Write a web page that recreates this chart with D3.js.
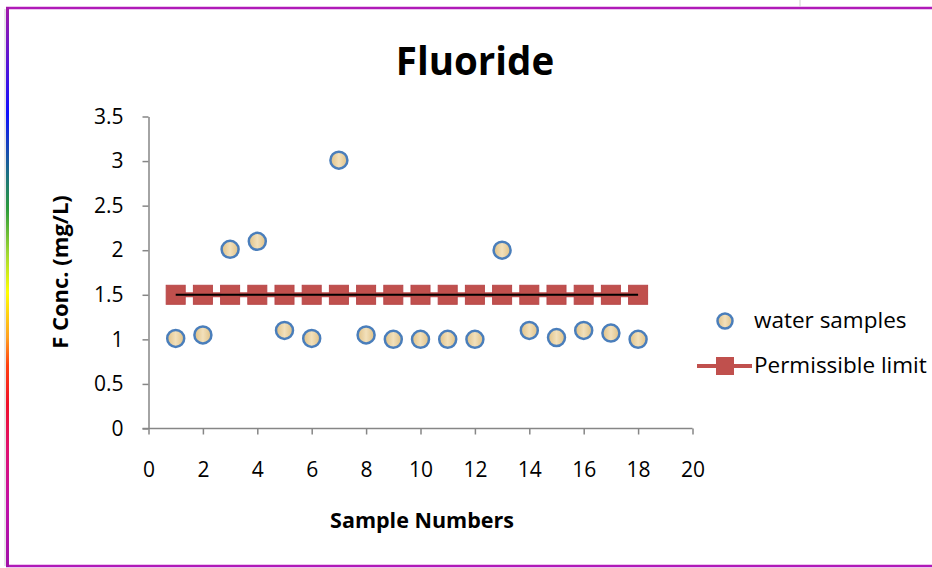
<!DOCTYPE html>
<html>
<head>
<meta charset="utf-8">
<script src="https://cdn.jsdelivr.net/npm/d3@7"></script>
<style>
  body { margin: 0; background: #fff; }
  text { font-family: "Open Sans", sans-serif; fill: #000; }
</style>
</head>
<body>
<script>
// sample numbers and fluoride concentrations (mg/L)
var samples = [1, 2, 3, 4, 5, 6, 7, 8, 9, 10, 11, 12, 13, 14, 15, 16, 17, 18];
var fluoride = [1.01, 1.05, 2.01, 2.1, 1.1, 1.01, 3.01, 1.05, 1.0, 1.0, 1.0, 1.0, 2.0, 1.1, 1.02, 1.1, 1.07, 1.0];
var limit = [1.5, 1.5, 1.5, 1.5, 1.5, 1.5, 1.5, 1.5, 1.5, 1.5, 1.5, 1.5, 1.5, 1.5, 1.5, 1.5, 1.5, 1.5];
var xTicks = [0, 2, 4, 6, 8, 10, 12, 14, 16, 18, 20];
var yTicks = [0, 0.5, 1, 1.5, 2, 2.5, 3, 3.5];
var seriesNames = ["water samples", "Permissible limit"];

var w = 932,
    h = 568;

var svg = d3.select("body").append("svg")
    .attr("width", w)
    .attr("height", h);

var defs = svg.append("defs");

var tan = defs.append("linearGradient")
    .attr("id", "tan")
    .attr("x1", "0%").attr("x2", "100%").attr("y1", "0%").attr("y2", "0%");
tan.append("stop").attr("offset", "0%").attr("stop-color", "#dfc084");
tan.append("stop").attr("offset", "50%").attr("stop-color", "#f2e0bb");
tan.append("stop").attr("offset", "100%").attr("stop-color", "#dfc084");

var edge = defs.append("linearGradient")
    .attr("id", "edge")
    .attr("x1", 0).attr("x2", 0).attr("y1", 0).attr("y2", 1);
[[0, "#a31aa8"], [0.19, "#1010ff"], [0.3, "#1a7080"], [0.36, "#2a9a3a"], [0.44, "#a0d830"],
 [0.51, "#ffff00"], [0.59, "#ffa020"], [0.64, "#ff4010"], [0.71, "#f0102a"], [0.79, "#e01070"],
 [0.89, "#c010a8"], [1, "#a010a8"]].forEach(function(s) {
  edge.append("stop").attr("offset", s[0]).attr("stop-color", s[1]);
});

// frame of the chart area
svg.append("rect")
    .attr("x", 4).attr("y", 9).attr("width", 2).attr("height", 557)
    .style("fill", "#e6e6e6");
svg.append("line")
    .attr("x1", 6).attr("x2", w).attr("y1", 8).attr("y2", 8)
    .style("stroke", "#b01ab8").style("stroke-width", 2.5);
svg.append("line")
    .attr("x1", 6).attr("x2", w).attr("y1", 566).attr("y2", 566)
    .style("stroke", "#b01ab8").style("stroke-width", 2.5);
svg.append("rect")
    .attr("x", 6).attr("y", 7).attr("width", 3).attr("height", 560)
    .style("fill", "url(#edge)");
svg.append("line")
    .attr("x1", 800).attr("x2", 800).attr("y1", 0).attr("y2", 7)
    .style("stroke", "#d0d0d0").style("stroke-width", 1);

var x = d3.scaleLinear().domain([0, 20]).range([148.5, 692.5]);
var y = d3.scaleLinear().domain([0, 3.5]).range([428.5, 116.5]);

var xAxis = svg.append("g")
    .attr("transform", "translate(0," + y(0) + ")")
    .call(d3.axisBottom(x).tickValues(xTicks).tickSize(6).tickPadding(28).tickSizeOuter(0));
var yAxis = svg.append("g")
    .attr("transform", "translate(" + x(0) + ",0)")
    .call(d3.axisLeft(y).tickValues(yTicks).tickSize(6).tickPadding(19).tickSizeOuter(0)
      .tickFormat(d3.format("")));

[xAxis, yAxis].forEach(function(g) {
  g.select(".domain").style("stroke", "#868686").style("stroke-width", 1.5);
  g.selectAll(".tick line").style("stroke", "#868686").style("stroke-width", 1.5);
  g.selectAll(".tick text").style("font-family", "'Open Sans', sans-serif").style("font-size", "21px").style("fill", "#000");
});
// the x axis line starts at the y axis tick
xAxis.select(".domain").attr("d", "M" + (x(0) - 6) + ",0H" + x(20));

// permissible limit: red line + squares, black line on top
var limitLine = d3.line()
    .x(function(d, i) { return x(samples[i]); })
    .y(function(d) { return y(d); });

svg.append("path")
    .datum(limit)
    .attr("d", limitLine)
    .style("fill", "none")
    .style("stroke", "#c0504d")
    .style("stroke-width", 5);

svg.selectAll("rect.limit")
    .data(limit)
  .enter().append("rect")
    .attr("class", "limit")
    .attr("x", function(d, i) { return x(samples[i]) - 9.5; })
    .attr("y", function(d) { return y(d) - 9.5; })
    .attr("width", 19)
    .attr("height", 19)
    .style("fill", "#c0504d")
    .style("stroke", "#b8474a")
    .style("stroke-width", 1);

svg.append("path")
    .datum(limit)
    .attr("d", limitLine)
    .style("fill", "none")
    .style("stroke", "#000")
    .style("stroke-width", 2);

// water samples
svg.selectAll("circle.sample")
    .data(fluoride)
  .enter().append("circle")
    .attr("class", "sample")
    .attr("cx", function(d, i) { return x(samples[i]); })
    .attr("cy", function(d) { return y(d); })
    .attr("r", 8.5)
    .style("fill", "url(#tan)")
    .style("stroke", "#4a7ebb")
    .style("stroke-width", 2.5);

// titles
svg.append("text")
    .attr("x", 475).attr("y", 75)
    .attr("text-anchor", "middle")
    .style("font-size", "38.5px").style("font-weight", "bold")
    .text("Fluoride");

svg.append("text")
    .attr("x", 422).attr("y", 528)
    .attr("text-anchor", "middle")
    .style("font-size", "21.5px").style("font-weight", "bold")
    .text("Sample Numbers");

svg.append("text")
    .attr("transform", "translate(68,272)rotate(-90)")
    .attr("text-anchor", "middle")
    .style("font-size", "22px").style("font-weight", "bold")
    .text("F Conc. (mg/L)");

// legend
var legend = svg.append("g");
legend.append("circle")
    .attr("cx", 725).attr("cy", 321).attr("r", 7.5)
    .style("fill", "url(#tan)").style("stroke", "#4a7ebb").style("stroke-width", 2.5);
legend.append("line")
    .attr("x1", 697).attr("x2", 752).attr("y1", 366).attr("y2", 366)
    .style("stroke", "#c0504d").style("stroke-width", 4);
legend.append("rect")
    .attr("x", 716).attr("y", 357).attr("width", 18).attr("height", 18)
    .style("fill", "#c0504d");
legend.selectAll("text")
    .data(seriesNames)
  .enter().append("text")
    .attr("x", 754)
    .attr("y", function(d, i) { return 328 + i * 45; })
    .style("font-size", "22.5px")
    .text(function(d) { return d; });
</script>
</body>
</html>
